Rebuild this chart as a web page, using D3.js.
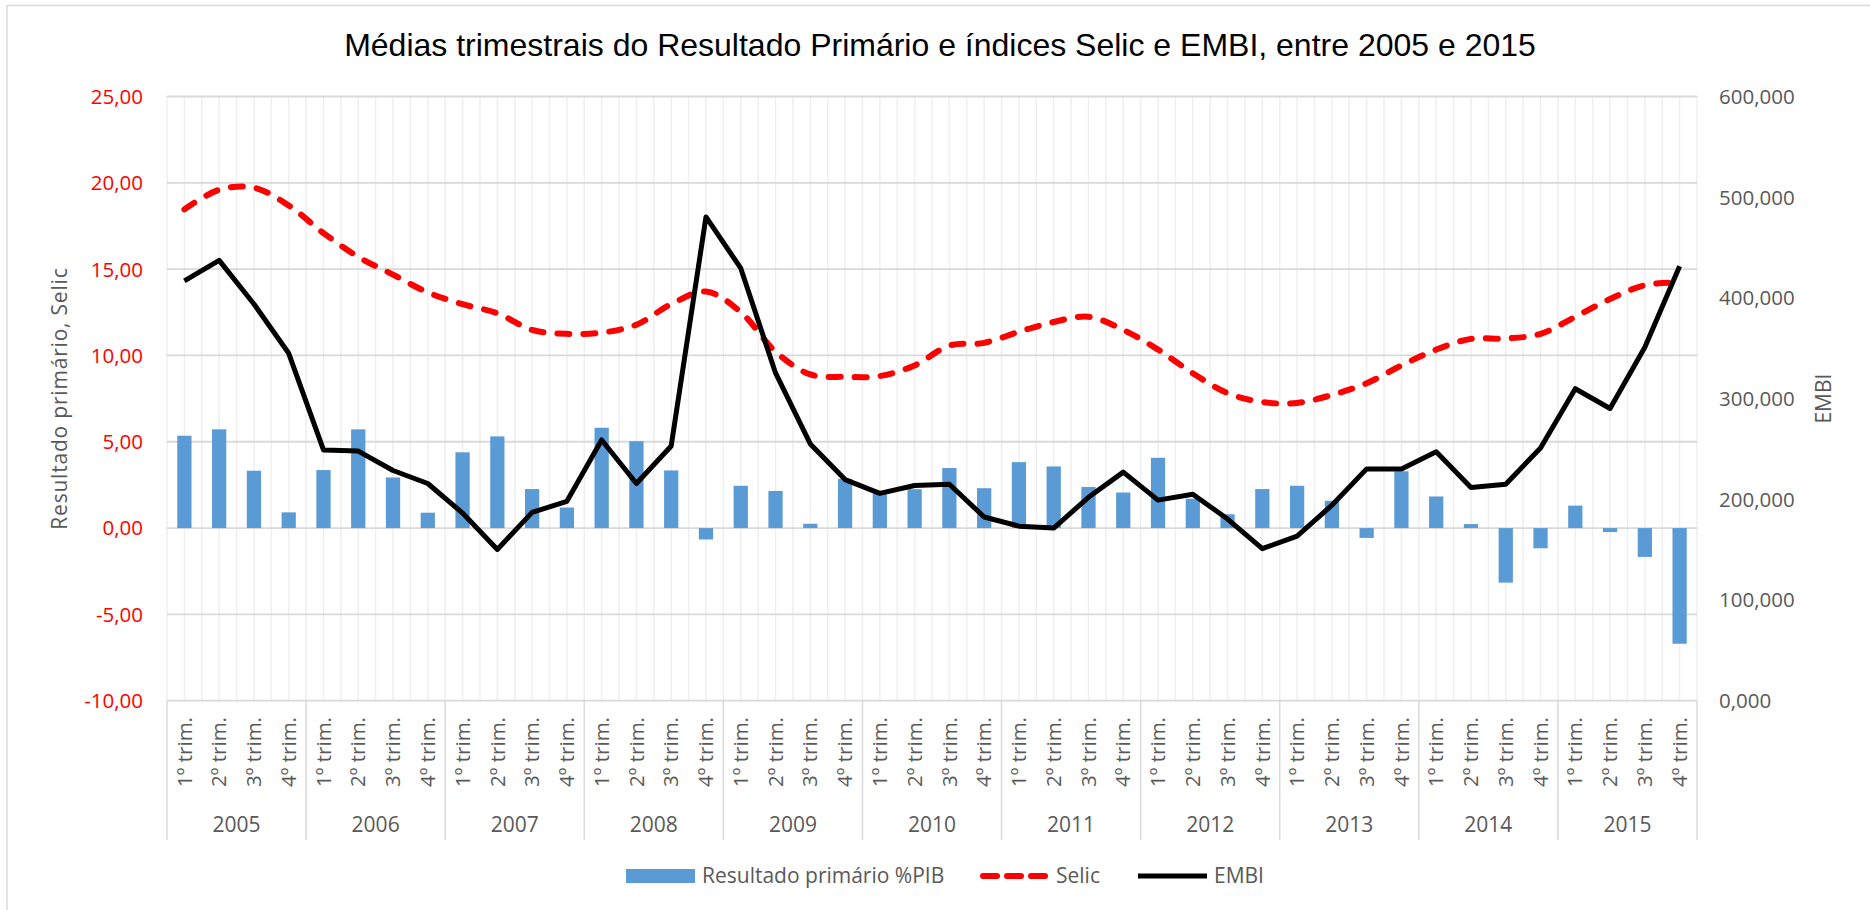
<!DOCTYPE html>
<html>
<head>
<meta charset="utf-8">
<script src="https://cdn.jsdelivr.net/npm/d3@7"></script>
<style>
  body { margin: 0; background: #ffffff; }
  svg { display: block; }
</style>
</head>
<body>
<div id="chart"></div>
<script>

// ---------- data ----------
var years = ["2005", "2006", "2007", "2008", "2009", "2010", "2011", "2012", "2013", "2014", "2015"];
var quarters = ["1º trim.", "2º trim.", "3º trim.", "4º trim."];

// Resultado primário %PIB (eixo esquerdo)
var primario = [5.35, 5.72, 3.32, 0.91, 3.36, 5.72, 2.93, 0.89, 4.39, 5.31, 2.26, 1.19,
    5.81, 5.03, 3.34, -0.66, 2.45, 2.15, 0.25, 2.85, 2.00, 2.25, 3.48, 2.31,
    3.82, 3.57, 2.38, 2.06, 4.07, 1.70, 0.80, 2.26, 2.45, 1.58, -0.57, 3.29,
    1.83, 0.23, -3.16, -1.17, 1.30, -0.23, -1.67, -6.70];

// Selic (eixo esquerdo)
var selic = [18.46, 19.60, 19.72, 18.69, 17.09, 15.71, 14.68, 13.65, 12.97, 12.44, 11.48, 11.25,
    11.32, 11.78, 12.97, 13.70, 12.51, 10.22, 8.90, 8.76, 8.81, 9.42, 10.57, 10.73,
    11.37, 11.94, 12.24, 11.48, 10.34, 8.97, 7.82, 7.30, 7.25, 7.71, 8.39, 9.42,
    10.34, 10.96, 10.98, 11.25, 12.24, 13.27, 14.07, 14.23];

// EMBI (eixo direito)
var embi = [416.9, 437.3, 394.0, 345.0, 249.0, 247.9, 228.6, 215.7, 186.3, 150.2, 187.0, 198.0,
    258.9, 215.7, 253.0, 480.4, 429.5, 325.5, 255.0, 219.6, 205.9, 213.7, 214.9, 182.4,
    173.3, 171.4, 202.0, 227.0, 199.2, 205.1, 180.4, 151.0, 163.5, 194.1, 230.2, 230.2,
    247.1, 211.8, 214.9, 251.0, 309.8, 290.2, 351.0, 431.4];

var leftTicks = [-10, -5, 0, 5, 10, 15, 20, 25];
var rightTicks = [0, 100, 200, 300, 400, 500, 600];

var title = "Médias trimestrais do Resultado Primário e índices Selic e EMBI, entre 2005 e 2015";

// ---------- layout ----------
var W = 1870, H = 910;
var plot = {left: 167, right: 1697, top: 96.5, bottom: 700.7};
var font = "'Open Sans', sans-serif";
var grey = "#595959";

var n = primario.length;
var idx = d3.range(n);

var svg = d3.select("#chart").append("svg")
    .attr("width", W)
    .attr("height", H)
    .style("font-family", font);

// chart border (only top and left visible in the original)
svg.append("rect")
    .attr("x", 7).attr("y", 5.5)
    .attr("width", W).attr("height", H)
    .attr("fill", "none")
    .attr("stroke", "#d9d9d9")
    .attr("stroke-width", 1.5);

var x = d3.scaleBand().domain(idx).range([plot.left, plot.right]).padding(0);
var yL = d3.scaleLinear().domain([-10, 25]).range([plot.bottom, plot.top]);
var yR = d3.scaleLinear().domain([0, 600]).range([plot.bottom, plot.top]);

// pt-BR style numbers: decimal comma, plain hyphen for negatives
var comma = function(f){
    return function(v){ return d3.format(f)(v).replace("\u2212", "-").replace(".", ","); };
};

// ---------- grid ----------
var half = d3.range(n * 2 + 1).map(function(k){ return plot.left + k * x.bandwidth() / 2; });

svg.append("g").selectAll("line")
    .data(half)
    .enter().append("line")
    .attr("x1", function(d){ return d; }).attr("x2", function(d){ return d; })
    .attr("y1", plot.top).attr("y2", plot.bottom)
    .attr("stroke", "#efefef")
    .attr("stroke-width", 1.5);

svg.append("g").selectAll("line")
    .data(leftTicks)
    .enter().append("line")
    .attr("x1", plot.left).attr("x2", plot.right)
    .attr("y1", function(d){ return yL(d); }).attr("y2", function(d){ return yL(d); })
    .attr("stroke", "#d9d9d9")
    .attr("stroke-width", 1.8);

// ---------- category axis ----------
var cat = svg.append("g");

cat.selectAll("line.year")
    .data(d3.range(years.length + 1))
    .enter().append("line")
    .attr("class", "year")
    .attr("x1", function(k){ return plot.left + k * 4 * x.bandwidth(); })
    .attr("x2", function(k){ return plot.left + k * 4 * x.bandwidth(); })
    .attr("y1", plot.bottom).attr("y2", 840)
    .attr("stroke", "#d9d9d9")
    .attr("stroke-width", 1.5);

cat.selectAll("text.q")
    .data(idx)
    .enter().append("text")
    .attr("class", "q")
    .attr("transform", function(i){ return "translate(" + (x(i) + x.bandwidth() / 2) + ",717) rotate(-90)"; })
    .attr("text-anchor", "end")
    .attr("dy", "0.35em")
    .style("font-size", "20.5px")
    .style("fill", grey)
    .text(function(i){ return quarters[i % 4]; });

cat.selectAll("text.y")
    .data(years)
    .enter().append("text")
    .attr("class", "y")
    .attr("x", function(d, k){ return plot.left + (k * 4 + 2) * x.bandwidth(); })
    .attr("y", 832)
    .attr("text-anchor", "middle")
    .style("font-size", "21px")
    .style("fill", grey)
    .text(function(d){ return d; });

// ---------- value axes ----------
svg.append("g").selectAll("text")
    .data(leftTicks)
    .enter().append("text")
    .attr("x", 143)
    .attr("y", function(d){ return yL(d); })
    .attr("dy", "0.36em")
    .attr("text-anchor", "end")
    .style("font-size", "20.5px")
    .style("fill", "#ff0000")
    .text(comma(".2f"));

svg.append("g").selectAll("text")
    .data(rightTicks)
    .enter().append("text")
    .attr("x", 1719)
    .attr("y", function(d){ return yR(d); })
    .attr("dy", "0.36em")
    .attr("text-anchor", "start")
    .style("font-size", "20.5px")
    .style("fill", grey)
    .text(comma(".3f"));

svg.append("text")
    .attr("transform", "translate(67," + (plot.top + plot.bottom) / 2 + ") rotate(-90)")
    .attr("text-anchor", "middle")
    .style("font-size", "21px")
    .style("letter-spacing", "0.8px")
    .style("fill", grey)
    .text("Resultado primário, Selic");

svg.append("text")
    .attr("transform", "translate(1831," + (plot.top + plot.bottom) / 2 + ") rotate(-90)")
    .attr("text-anchor", "middle")
    .style("font-size", "21px")
    .style("fill", grey)
    .text("EMBI");

// ---------- title ----------
svg.append("text")
    .attr("x", 940)
    .attr("y", 56)
    .attr("text-anchor", "middle")
    .style("font-family", "'Liberation Sans', Arial, sans-serif")
    .style("font-size", "32px")
    .style("fill", "#000000")
    .text(title);

// ---------- bars ----------
var barW = x.bandwidth() * 0.41;

svg.append("g").selectAll("rect")
    .data(primario)
    .enter().append("rect")
    .attr("x", function(d, i){ return x(i) + (x.bandwidth() - barW) / 2; })
    .attr("y", function(d){ return yL(Math.max(0, d)); })
    .attr("width", barW)
    .attr("height", function(d){ return Math.abs(yL(d) - yL(0)); })
    .attr("fill", "#5b9bd5");

// ---------- lines ----------
var cx = function(i){ return x(i) + x.bandwidth() / 2; };

var selicLine = d3.line()
    .x(function(d, i){ return cx(i); })
    .y(function(d){ return yL(d); })
    .curve(d3.curveCatmullRom.alpha(0.5));

var embiLine = d3.line()
    .x(function(d, i){ return cx(i); })
    .y(function(d){ return yR(d); });

svg.append("path")
    .datum(selic)
    .attr("d", selicLine)
    .attr("fill", "none")
    .attr("stroke", "#ff0000")
    .attr("stroke-width", 6)
    .attr("stroke-linecap", "round")
    .attr("stroke-dasharray", "12 14");

svg.append("path")
    .datum(embi)
    .attr("d", embiLine)
    .attr("fill", "none")
    .attr("stroke", "#000000")
    .attr("stroke-width", 5)
    .attr("stroke-linejoin", "round");

// ---------- legend ----------
var legend = svg.append("g").style("font-size", "21px").style("fill", grey);
var ly = 876;

legend.append("rect")
    .attr("x", 626).attr("y", ly - 7)
    .attr("width", 69).attr("height", 14)
    .attr("fill", "#5b9bd5");
legend.append("text").attr("x", 702).attr("y", ly).attr("dy", "0.35em").text("Resultado primário %PIB");

legend.append("line")
    .attr("x1", 983).attr("x2", 1050)
    .attr("y1", ly).attr("y2", ly)
    .attr("stroke", "#ff0000")
    .attr("stroke-width", 6)
    .attr("stroke-linecap", "round")
    .attr("stroke-dasharray", "14 10");
legend.append("text").attr("x", 1056).attr("y", ly).attr("dy", "0.35em").text("Selic");

legend.append("line")
    .attr("x1", 1138).attr("x2", 1207)
    .attr("y1", ly).attr("y2", ly)
    .attr("stroke", "#000000")
    .attr("stroke-width", 5);
legend.append("text").attr("x", 1214).attr("y", ly).attr("dy", "0.35em").text("EMBI");

</script>
</body>
</html>
